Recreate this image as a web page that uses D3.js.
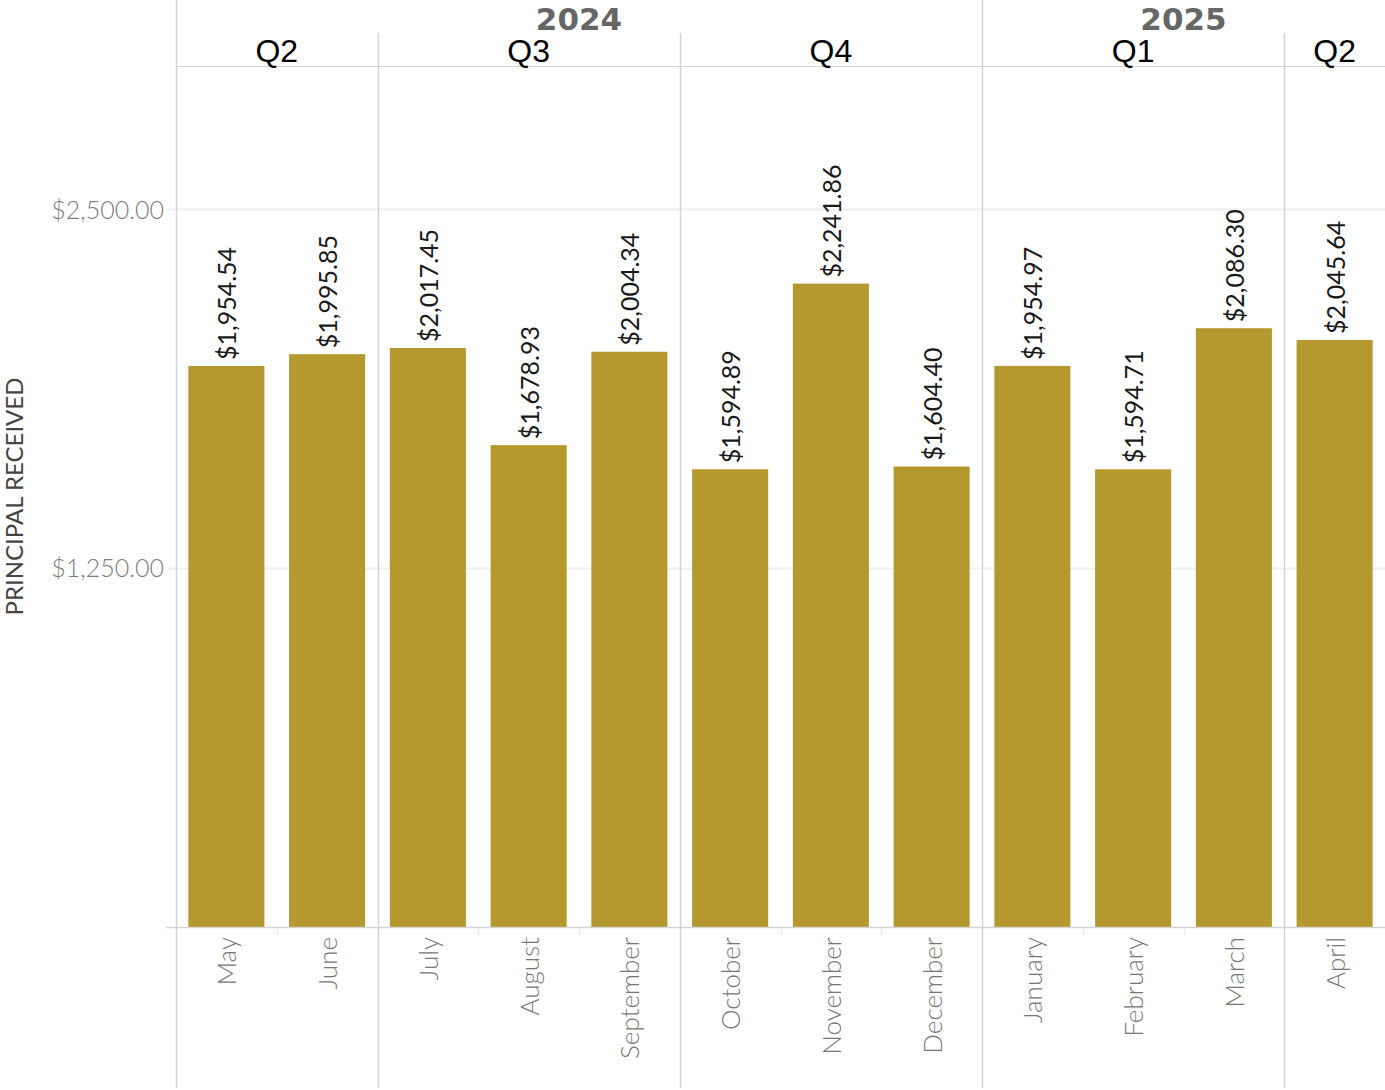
<!DOCTYPE html>
<html>
<head>
<meta charset="utf-8">
<script src="https://cdn.jsdelivr.net/npm/d3@7"></script>
<style>
  html, body { margin: 0; padding: 0; background: #fff; }
  svg { display: block; }
</style>
</head>
<body>
<svg id="chart" width="1385" height="1090"></svg>
<script>
// Monthly principal received, grouped by year and quarter
const months   = ["May", "June", "July", "August", "September", "October", "November", "December", "January", "February", "March", "April"];
const quarters = ["Q2", "Q2", "Q3", "Q3", "Q3", "Q4", "Q4", "Q4", "Q1", "Q1", "Q1", "Q2"];
const years    = ["2024", "2024", "2024", "2024", "2024", "2024", "2024", "2024", "2025", "2025", "2025", "2025"];
const principal = [1954.54, 1995.85, 2017.45, 1678.93, 2004.34, 1594.89, 2241.86, 1604.40, 1954.97, 1594.71, 2086.30, 2045.64];
const yTicks = [1250, 2500];
const yMax = 3000;

(function () {
  const paneLeft = 176, paneRight = 1385, paneTop = 66, base = 927, bottomEdge = 1088;
  const fontBody = "Lato, 'Open Sans', sans-serif";

  const svg = d3.select("#chart");

  const x = d3.scaleBand().domain(months).range([paneLeft, paneRight])
    .paddingInner(0.245).paddingOuter(0.1225);
  const y = d3.scaleLinear().domain([0, yMax]).range([base, paneTop]);

  const colStart = i => paneLeft + i * x.step();
  const colEnd = i => paneLeft + (i + 1) * x.step();
  const mid = m => x(m) + x.bandwidth() / 2;

  // Group months into contiguous runs of a key
  function runs(keys) {
    const out = [];
    keys.forEach((k, i) => {
      const last = out[out.length - 1];
      if (last && last.key === k) last.end = i;
      else out.push({ key: k, start: i, end: i });
    });
    return out;
  }
  const yearRuns = runs(years);
  const quarterRuns = runs(years.map((yr, i) => yr + "-" + quarters[i]))
    .map(r => ({ ...r, label: quarters[r.start] }));

  const lineColor = "#d4d4d4";

  // Gridlines
  svg.append("g").selectAll("line").data(yTicks).join("line")
    .attr("x1", 168).attr("x2", paneRight)
    .attr("y1", d => Math.round(y(d)) + 0.5).attr("y2", d => Math.round(y(d)) + 0.5)
    .attr("stroke", "#efefef").attr("stroke-width", 2);

  // Bars
  svg.append("g").selectAll("rect").data(principal).join("rect")
    .attr("x", (d, i) => x(months[i]))
    .attr("width", x.bandwidth())
    .attr("y", d => y(d))
    .attr("height", d => base - y(d))
    .attr("fill", "#b5992e");

  // Value labels
  const fmt = d3.format("$,.2f");
  svg.append("g").selectAll("text").data(principal).join("text")
    .attr("transform", (d, i) => `translate(${mid(months[i]) + 10},${y(d) - 6}) rotate(-90)`)
    .attr("text-anchor", "start")
    .attr("font-family", fontBody)
    .attr("font-size", 25)
    .attr("fill", "#1a1a1a")
    .text(d => fmt(d));

  // Pane borders: header separator and baseline
  svg.append("line").attr("x1", paneLeft).attr("x2", paneRight).attr("y1", paneTop + 0.5).attr("y2", paneTop + 0.5)
    .attr("stroke", lineColor).attr("stroke-width", 1);
  svg.append("line").attr("x1", 166).attr("x2", paneRight).attr("y1", base + 0.5).attr("y2", base + 0.5)
    .attr("stroke", lineColor).attr("stroke-width", 1.5);

  // Left pane edge
  svg.append("line").attr("x1", paneLeft + 0.5).attr("x2", paneLeft + 0.5).attr("y1", 0).attr("y2", bottomEdge)
    .attr("stroke", lineColor).attr("stroke-width", 1.5);

  // Quarter separators (year boundaries reach the top edge)
  const yearStarts = new Set(yearRuns.map(r => r.start));
  svg.append("g").selectAll("line").data(quarterRuns.filter(r => r.start > 0)).join("line")
    .attr("x1", r => Math.round(colStart(r.start)) + 0.5)
    .attr("x2", r => Math.round(colStart(r.start)) + 0.5)
    .attr("y1", r => yearStarts.has(r.start) ? 0 : 33)
    .attr("y2", bottomEdge)
    .attr("stroke", lineColor).attr("stroke-width", 1.5);

  // Minor ticks between months inside a quarter
  const minor = [];
  quarterRuns.forEach(r => { for (let i = r.start + 1; i <= r.end; i++) minor.push(i); });
  svg.append("g").selectAll("line").data(minor).join("line")
    .attr("x1", i => Math.round(colStart(i)) + 0.5).attr("x2", i => Math.round(colStart(i)) + 0.5)
    .attr("y1", base + 1).attr("y2", base + 8)
    .attr("stroke", "#ececec").attr("stroke-width", 1.5);

  // Year headers
  svg.append("g").selectAll("text").data(yearRuns).join("text")
    .attr("x", r => (colStart(r.start) + colEnd(r.end)) / 2)
    .attr("y", 30)
    .attr("text-anchor", "middle")
    .attr("font-family", "'DejaVu Sans', sans-serif")
    .attr("font-weight", "bold")
    .attr("font-size", 31)
    .attr("fill", "#666")
    .text(r => r.key);

  // Quarter headers
  svg.append("g").selectAll("text").data(quarterRuns).join("text")
    .attr("x", r => (colStart(r.start) + colEnd(r.end)) / 2)
    .attr("y", 62)
    .attr("text-anchor", "middle")
    .attr("font-family", "'Liberation Sans', Arial, sans-serif")
    .attr("font-size", 32)
    .attr("fill", "#000")
    .text(r => r.label);

  // Month labels
  svg.append("g").selectAll("text").data(months).join("text")
    .attr("transform", d => `translate(${mid(d) + 10},937) rotate(-90)`)
    .attr("text-anchor", "end")
    .attr("font-family", fontBody)
    .attr("font-weight", 300)
    .attr("font-size", 26)
    .attr("fill", "#777")
    .text(d => d);

  // Y axis tick labels
  svg.append("g").selectAll("text").data(yTicks).join("text")
    .attr("x", 164)
    .attr("y", d => y(d) + 9)
    .attr("text-anchor", "end")
    .attr("font-family", fontBody)
    .attr("font-weight", 300)
    .attr("font-size", 25)
    .attr("fill", "#7c7c7c")
    .text(d => fmt(d));

  // Y axis title
  svg.append("text")
    .attr("transform", `translate(23,${(paneTop + base) / 2}) rotate(-90)`)
    .attr("text-anchor", "middle")
    .attr("font-family", fontBody)
    .attr("font-size", 24)
    .attr("fill", "#444")
    .text("PRINCIPAL RECEIVED");
})();
</script>
</body>
</html>
